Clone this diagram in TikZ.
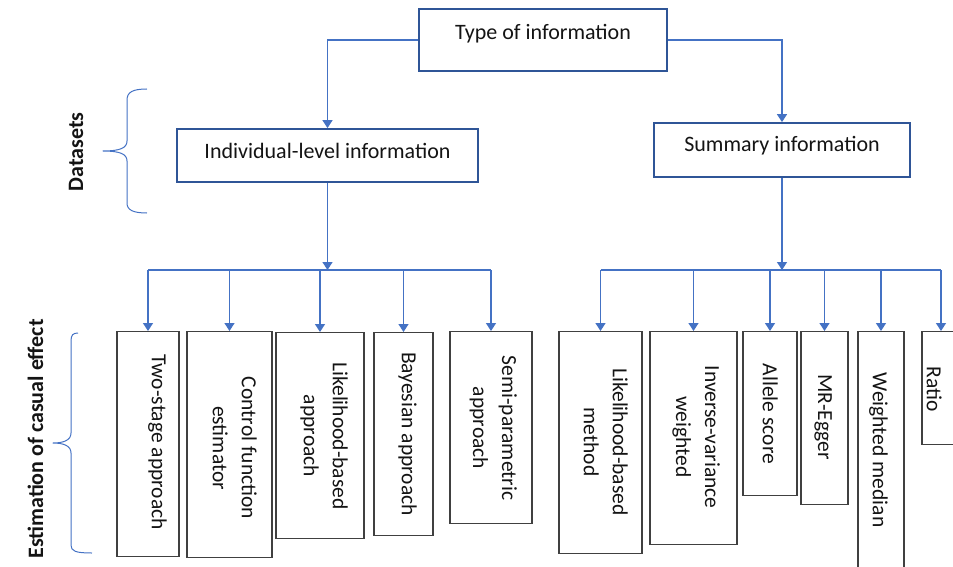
\documentclass[tikz,border=0pt]{standalone}
\usepackage{fontspec}
\setmainfont{Carlito}
\usetikzlibrary{arrows.meta}
\definecolor{conn}{RGB}{68,114,196}
\definecolor{topbd}{RGB}{47,85,151}
\definecolor{botbd}{RGB}{64,64,64}
\definecolor{txt}{RGB}{20,20,20}
\tikzset{
  topbox/.style={draw=topbd, line width=1.8pt, minimum width=#1, inner sep=0pt, fill=white},
  botbox/.style={draw=botbd, line width=1.3pt, anchor=north, inner sep=0pt, fill=white},
  hlabel/.style={font=\fontsize{22}{26}\selectfont, text=txt, anchor=base, inner sep=0pt},
  rlabel/.style={font=\fontsize{21.5}{29}\selectfont, text=txt, rotate=-90, anchor=north, align=center, inner sep=0pt},
  sidelabel/.style={font=\fontsize{22}{26}\selectfont\bfseries, text=txt, rotate=90, anchor=base, inner sep=0pt},
  link/.style={draw=conn, line width=1.4pt},
  arr/.style={link, -{Triangle[width=10pt,length=8pt]}},
  bracepath/.style={draw=conn, line width=1pt, line join=round}
}
\begin{document}
\begin{tikzpicture}[x=1pt,y=-1pt]
\useasboundingbox (0,0) rectangle (953,567);
\clip (0,0) rectangle (953,567);

% top level boxes
\node[topbox=248pt, minimum height=62pt] (type) at (543,40) {};
\node[hlabel] (typet) at (543,40) {Type of information};
\node[topbox=301pt, minimum height=53pt] (ind) at (327.5,155.5) {};
\node[hlabel] (indt) at (327.5,158) {Individual-level information};
\node[topbox=256pt, minimum height=54pt] (sum) at (782,150) {};
\node[hlabel] (sumt) at (782,152) {Summary information};

\draw[arr] (type.west) -| (ind.north);
\draw[arr] (type.east) -| (sum.north);

% bus coordinates
\coordinate (busL) at (327.5,270);
\coordinate (busR) at (782,270);
\draw[arr] (ind.south) -- (busL);
\draw[arr] (sum.south) -- (busR);

% bottom boxes, left group
\node[botbox, minimum width=62pt, minimum height=225pt] (b1) at (148,331) {};
\node[botbox, minimum width=85pt, minimum height=226pt] (b2) at (229.5,331) {};
\node[botbox, minimum width=88pt, minimum height=206pt] (b3) at (320,332) {};
\node[botbox, minimum width=59pt, minimum height=203pt] (b4) at (403.5,332) {};
\node[botbox, minimum width=82pt, minimum height=192pt] (b5) at (491,331) {};
% right group
\node[botbox, minimum width=83pt, minimum height=222pt] (s1) at (600.5,331) {};
\node[botbox, minimum width=87pt, minimum height=213pt] (s2) at (693.5,331) {};
\node[botbox, minimum width=54pt, minimum height=164pt] (s3) at (770,331) {};
\node[botbox, minimum width=47pt, minimum height=173pt] (s4) at (824.5,331) {};
\node[botbox, minimum width=46pt, minimum height=240pt] (s5) at (881,331) {};
\node[botbox, minimum width=38pt, minimum height=113pt] (s6) at (941,331) {};

% rotated texts
\node[rlabel] (b1t) at (167,442) {Two-stage approach};
\node[rlabel] (b2t) at (257,448) {Control function\\estimator};
\node[rlabel] (b3t) at (348,436) {Likelihood-based\\approach};
\node[rlabel] (b4t) at (417,434) {Bayesian approach};
\node[rlabel] (b5t) at (517,428) {Semi-parametric\\approach};
\node[rlabel] (s1t) at (628,442) {Likelihood-based\\method};
\node[rlabel] (s2t) at (720,437) {Inverse-variance\\weighted};
\node[rlabel] (s3t) at (778,414) {Allele score};
\node[rlabel] (s4t) at (832,417) {MR-Egger};
\node[rlabel] (s5t) at (888,450) {Weighted median};
\node[rlabel] (s6t) at (942,389) {Ratio};

% buses
\draw[link] (b1.north |- busL) -- (b5.north |- busL);
\draw[link] (s1.north |- busR) -- (s6.north |- busR);
\foreach \n in {b1,b2,b3,b4,b5}{
  \draw[arr] (\n.north |- busL) -- (\n.north);
}
\foreach \n in {s1,s2,s3,s4,s5,s6}{
  \draw[arr] (\n.north |- busR) -- (\n.north);
}

% side labels and braces
\node[sidelabel] (dsl) at (83,152) {Datasets};
\node[sidelabel] (esl) at (43,439) {Estimation of casual effect};

\coordinate (br1top) at (147,89);
\coordinate (br1tip) at (103,151);
\coordinate (br1bot) at (147,213);
\draw[bracepath] (br1top) .. controls (133,89) and (127,92) .. (127,100)
  -- (127,141) .. controls (127,148) and (120,151) .. (br1tip)
  .. controls (120,151) and (127,154) .. (127,161)
  -- (127,203) .. controls (127,210) and (133,213) .. (br1bot);

\coordinate (br2top) at (78,333);
\coordinate (br2tip) at (53,443);
\coordinate (br2bot) at (92,553);
\draw[bracepath] (br2top) .. controls (73,333) and (71,335) .. (71,341)
  -- (71,433) .. controls (71,440) and (64,443) .. (br2tip)
  .. controls (64,443) and (71,446) .. (71,453)
  -- (71,545) .. controls (71,551) and (75,553) .. (br2bot);
\end{tikzpicture}
\end{document}
